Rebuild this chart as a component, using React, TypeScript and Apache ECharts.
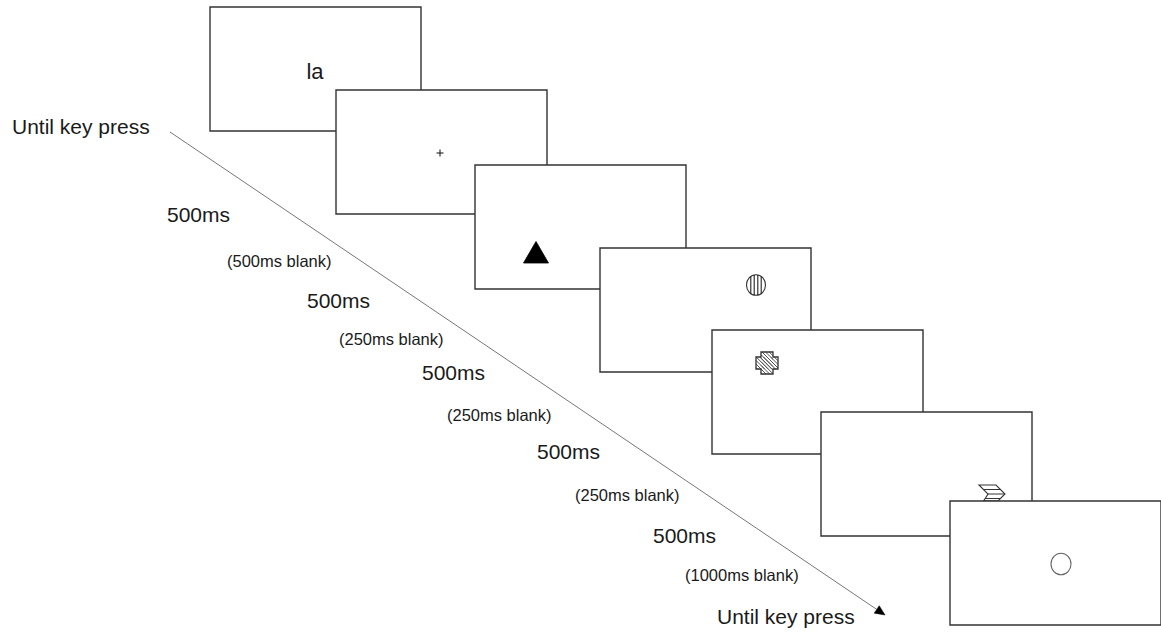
import React, { useEffect, useRef } from "react";
import * as echarts from "echarts";

// ---- data ----
const frameLeft = [210, 336, 475, 600, 712, 821, 950];
const frameTop = [7, 90, 165, 248, 330, 412, 501];
const stimulusKind = ["word", "fixation", "triangle", "stripedCircle", "stripedCross", "stripedChevron", "circle"];
const stimulusX = [315, 440, 536, 756, 767, 992, 1061];
const stimulusY = [71, 153, 253, 285, 363, 493, 564];
const wordStimulus = "la";

const timelineLabels = [
  "Until key press",
  "500ms",
  "(500ms blank)",
  "500ms",
  "(250ms blank)",
  "500ms",
  "(250ms blank)",
  "500ms",
  "(250ms blank)",
  "500ms",
  "(1000ms blank)",
  "Until key press",
];
const labelX = [12, 167, 227, 307, 339, 422, 447, 537, 575, 653, 685, 717];
const labelY = [126, 214, 261, 300, 339, 372, 415, 451, 495, 535, 575, 616];

const arrowStart = [170, 132];
const arrowEnd = [885, 615];

// ---- layout constants ----
const W = 1161;
const H = 635;
const FRAME_W = 211;
const FRAME_H = 124;
const FONT = '"Liberation Sans", Arial, Helvetica, sans-serif';
const FRAME_STROKE = "#333";

function clipDiagonal(c: number, x0: number, x1: number, y0: number, y1: number) {
  // line y = x + c clipped to rect
  const a = Math.max(x0, y0 - c);
  const b = Math.min(x1, y1 - c);
  if (b <= a) return null;
  return [a, a + c, b, b + c];
}

function stimulus(kind: string, cx: number, cy: number): any[] {
  const els: any[] = [];
  if (kind === "word") {
    els.push({
      type: "text",
      x: cx,
      y: cy,
      style: { text: wordStimulus, fontSize: 22, fontFamily: FONT, fill: "#1a1a1a", align: "center", verticalAlign: "middle" },
    });
  } else if (kind === "fixation") {
    els.push({ type: "line", shape: { x1: cx - 3.5, y1: cy, x2: cx + 3.5, y2: cy }, style: { stroke: "#222", lineWidth: 1.1 } });
    els.push({ type: "line", shape: { x1: cx, y1: cy - 3.5, x2: cx, y2: cy + 3.5 }, style: { stroke: "#222", lineWidth: 1.1 } });
  } else if (kind === "triangle") {
    els.push({
      type: "polygon",
      shape: { points: [[cx, cy - 11.5], [cx + 12.5, cy + 10], [cx - 12.5, cy + 10]] },
      style: { fill: "#000", stroke: "#000", lineWidth: 0.8 },
    });
  } else if (kind === "stripedCircle") {
    const rx = 9.5, ry = 10.3;
    els.push({ type: "ellipse", shape: { cx, cy, rx, ry }, style: { fill: "#fff", stroke: "#333", lineWidth: 1.1 } });
    [-5.2, -1.8, 1.8, 5.2].forEach((dx) => {
      const h = ry * Math.sqrt(1 - (dx * dx) / (rx * rx));
      els.push({ type: "line", shape: { x1: cx + dx, y1: cy - h, x2: cx + dx, y2: cy + h }, style: { stroke: "#222", lineWidth: 1.1 } });
    });
  } else if (kind === "stripedCross") {
    const e = 11, a = 6;
    const pts = [
      [-a, -e], [a, -e], [a, -a], [e, -a], [e, a], [a, a], [a, e], [-a, e], [-a, a], [-e, a], [-e, -a], [-a, -a],
    ].map(([x, y]) => [cx + x, cy + y]);
    els.push({ type: "polygon", shape: { points: pts }, style: { fill: "#fff", stroke: "none" } });
    const rects = [
      [-e, e, -a, a],
      [-a, a, -e, e],
    ];
    for (let c = -24; c <= 24; c += 3.6) {
      rects.forEach(([x0, x1, y0, y1]) => {
        const s = clipDiagonal(c, x0, x1, y0, y1);
        if (s) {
          els.push({
            type: "line",
            shape: { x1: cx + s[0], y1: cy + s[1], x2: cx + s[2], y2: cy + s[3] },
            style: { stroke: "#555", lineWidth: 1 },
          });
        }
      });
    }
    els.push({ type: "polygon", shape: { points: pts }, style: { fill: "none", stroke: "#333", lineWidth: 1.3 } });
  } else if (kind === "stripedChevron") {
    const rel = [[-13, -8], [4, -8], [13, 1], [5, 9], [-9, 9], [-4, 1]];
    const pts = rel.map(([x, y]) => [cx + x, cy + y]);
    els.push({ type: "polygon", shape: { points: pts }, style: { fill: "#fff", stroke: "#333", lineWidth: 1.1 } });
    const left = (y: number) => (y <= 1 ? -13 + (y + 8) : -4 - ((y - 1) * 5) / 8);
    const right = (y: number) => (y <= 1 ? 4 + (y + 8) : 13 - (y - 1));
    [-3.5, 1, 5.5].forEach((y) => {
      els.push({
        type: "line",
        shape: { x1: cx + left(y), y1: cy + y, x2: cx + right(y), y2: cy + y },
        style: { stroke: "#333", lineWidth: 1 },
      });
    });
    els.push({ type: "line", shape: { x1: cx - 9, y1: cy + 8.5, x2: cx + 5, y2: cy + 8.5 }, style: { stroke: "#000", lineWidth: 2 } });
  } else if (kind === "circle") {
    els.push({ type: "ellipse", shape: { cx, cy, rx: 10, ry: 10.8 }, style: { fill: "#fff", stroke: "#666", lineWidth: 1.1 } });
  }
  return els;
}

export default function App() {
  const ref = useRef<HTMLDivElement>(null);

  useEffect(() => {
    if (!ref.current) return;
    const chart = echarts.init(ref.current, null, { renderer: "svg" });

    const frameData = frameLeft.map((x, i) => [x, frameTop[i], stimulusX[i], stimulusY[i]]);
    const labelData = timelineLabels.map((t, i) => [labelX[i], labelY[i], t]);

    chart.setOption({
      animation: false,
      backgroundColor: "#fff",
      grid: { left: 0, right: 0, top: 0, bottom: 0, containLabel: false },
      xAxis: { type: "value", min: 0, max: W, show: false },
      yAxis: { type: "value", min: 0, max: H, inverse: true, show: false },
      series: [
        {
          type: "custom",
          name: "timeline",
          coordinateSystem: "cartesian2d",
          silent: true,
          data: [[arrowStart[0], arrowStart[1], arrowEnd[0], arrowEnd[1]]],
          renderItem: (params: any, api: any) => {
            const s = api.coord([api.value(0), api.value(1)]);
            const e = api.coord([api.value(2), api.value(3)]);
            const dx = e[0] - s[0], dy = e[1] - s[1];
            const len = Math.sqrt(dx * dx + dy * dy);
            const ux = dx / len, uy = dy / len;
            const nx = -uy, ny = ux;
            const L = 10, hw = 4.5;
            const bx = e[0] - ux * L, by = e[1] - uy * L;
            return {
              type: "group",
              children: [
                { type: "line", shape: { x1: s[0], y1: s[1], x2: bx, y2: by }, style: { stroke: "#777", lineWidth: 1 } },
                {
                  type: "polygon",
                  shape: { points: [[e[0], e[1]], [bx + nx * hw, by + ny * hw], [bx - nx * hw, by - ny * hw]] },
                  style: { fill: "#000", stroke: "#000", lineWidth: 0.5 },
                },
              ],
            };
          },
        },
        {
          type: "custom",
          name: "frames",
          coordinateSystem: "cartesian2d",
          silent: true,
          data: frameData,
          renderItem: (params: any, api: any) => {
            const i = params.dataIndex;
            const p0 = api.coord([api.value(0), api.value(1)]);
            const p1 = api.coord([api.value(0) + FRAME_W, api.value(1) + FRAME_H]);
            const c = api.coord([api.value(2), api.value(3)]);
            return {
              type: "group",
              children: [
                {
                  type: "rect",
                  shape: { x: p0[0], y: p0[1], width: p1[0] - p0[0], height: p1[1] - p0[1] },
                  style: { fill: "#fff", stroke: FRAME_STROKE, lineWidth: 1.4 },
                },
                ...stimulus(stimulusKind[i], c[0], c[1]),
              ],
            };
          },
        },
        {
          type: "custom",
          name: "labels",
          coordinateSystem: "cartesian2d",
          silent: true,
          data: labelData,
          renderItem: (params: any, api: any) => {
            const i = params.dataIndex;
            const p = api.coord([labelX[i], labelY[i]]);
            const text = timelineLabels[i];
            const small = text.startsWith("(");
            return {
              type: "text",
              x: p[0],
              y: p[1],
              style: {
                text,
                fontSize: small ? 16.5 : 21,
                fontFamily: FONT,
                fill: "#1a1a1a",
                align: "left",
                verticalAlign: "middle",
              },
            };
          },
        },
      ],
    });

    return () => chart.dispose();
  }, []);

  return (
    <div
      ref={ref}
      style={{ width: W, height: H, position: "absolute", left: 0, top: 0, background: "#fff" }}
    />
  );
}
